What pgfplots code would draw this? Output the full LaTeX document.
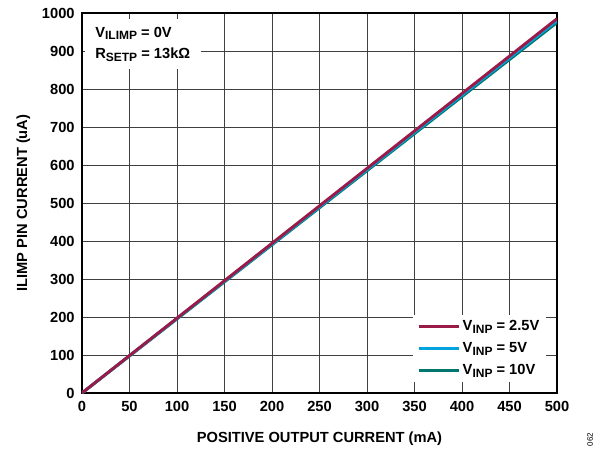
\documentclass[border=0pt]{standalone}
\usepackage{pgfplots}
\pgfplotsset{compat=1.18}
\usepackage{fontspec}
\setmainfont{Liberation Sans}
\definecolor{cmaroon}{RGB}{155,27,72}
\definecolor{cblue}{RGB}{0,163,222}
\definecolor{cteal}{RGB}{0,118,110}
\newcommand{\sub}[1]{\raisebox{-0.35ex}{\fontsize{9}{10}\selectfont #1}}
\begin{document}
\begin{tikzpicture}
\useasboundingbox (-61.5pt,-42.75pt) rectangle (392.25pt,294.75pt);
\begin{axis}[
    scale only axis,
    width=356.25pt, height=285pt,
    xmin=0, xmax=500, ymin=0, ymax=1000,
    xtick={0,50,...,500}, ytick={0,100,...,1000},
    grid=major,
    major grid style={draw=black!75, line width=0.6pt},
    axis line style={line width=1pt},
    tick style={draw=none},
    font=\fontsize{11}{13}\selectfont\bfseries,
    /pgf/number format/assume math mode=true,
    /pgf/number format/1000 sep={},
    xticklabel style={yshift=-3pt},
    yticklabel style={xshift=-2pt},
    xlabel={POSITIVE OUTPUT CURRENT (mA)},
    ylabel={ILIMP PIN CURRENT (uA)},
    xlabel style={yshift=-8pt},
    ylabel style={yshift=2pt},
    legend style={at={(1,0)}, anchor=south east, draw=none, fill=white,
        font=\fontsize{11}{13}\selectfont\bfseries, row sep=3.5pt,
        inner xsep=3pt, xshift=-8pt, yshift=8pt},
    legend cell align=left,
    legend image code/.code={\draw[line width=2.2pt] (0pt,0pt) -- (30pt,0pt);},
]
\addplot[cteal, line width=2.2pt, forget plot] table {
0 0
50 97.5
100 195
150 292.5
200 390
250 487.5
300 585
350 682.5
400 780
450 877.5
500 975
};
\addplot[cblue, line width=2.2pt, forget plot] table {
0 0
50 98
100 196
150 294
200 392
250 490
300 588
350 686
400 784
450 882
500 980
};
\addplot[cmaroon, line width=2.2pt, forget plot] table {
0 0
50 98.5
100 197
150 295.5
200 394
250 492.5
300 591
350 689.5
400 788
450 886.5
500 985
};
\addlegendimage{cmaroon}
\addlegendentry{V\sub{INP} = 2.5V}
\addlegendimage{cblue}
\addlegendentry{V\sub{INP} = 5V}
\addlegendimage{cteal}
\addlegendentry{V\sub{INP} = 10V}
\node[anchor=north west, fill=white, align=left, inner xsep=8pt, inner ysep=6pt,
      font=\fontsize{11}{16}\selectfont\bfseries]
  at (rel axis cs:0.005,0.985)
  {V\sub{ILIMP} = 0V\\R\sub{SETP} = 13kΩ};
\end{axis}
\node[rotate=90, font=\fontsize{6}{7}\selectfont] at (381pt,-35pt) {062};
\end{tikzpicture}
\end{document}
